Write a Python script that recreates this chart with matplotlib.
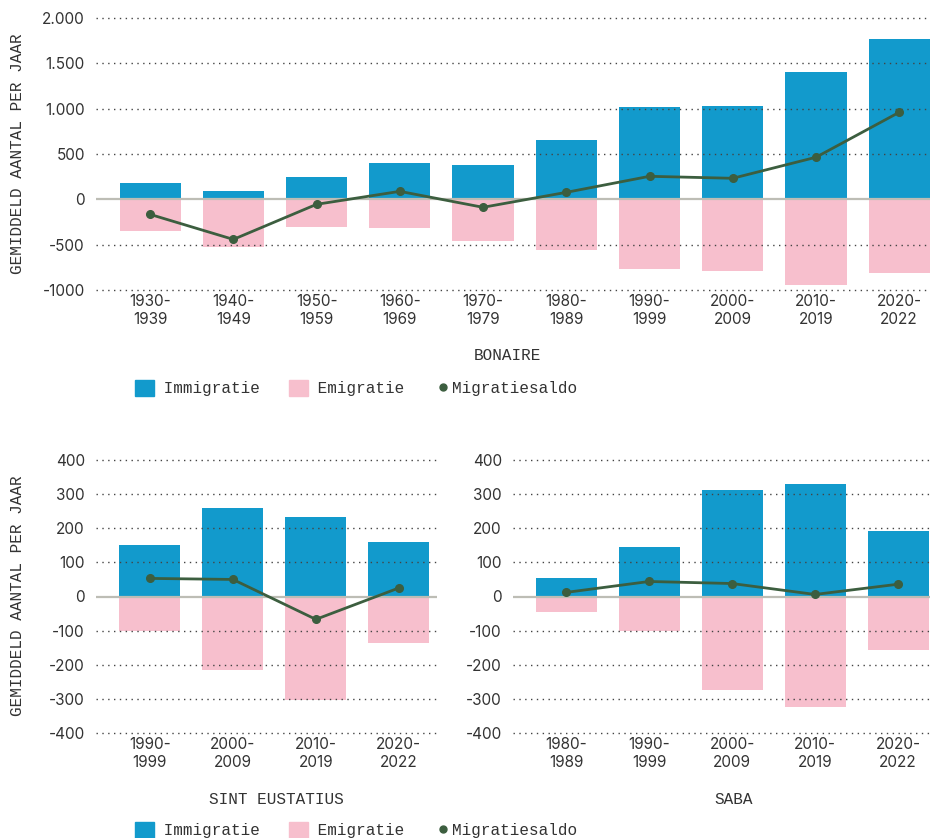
import matplotlib.pyplot as plt
from matplotlib.patches import Patch
from matplotlib.lines import Line2D

# Bonaire
bon_periodes = ["1930-\n1939", "1940-\n1949", "1950-\n1959", "1960-\n1969", "1970-\n1979",
                "1980-\n1989", "1990-\n1999", "2000-\n2009", "2010-\n2019", "2020-\n2022"]
bon_immigratie = [177, 88, 243, 397, 375, 651, 1015, 1026, 1402, 1766]
bon_emigratie = [-353, -530, -309, -320, -464, -563, -773, -795, -949, -817]
bon_saldo = [-166, -442, -55, 88, -88, 77, 254, 232, 464, 960]
bon_yticks = [-1000, -500, 0, 500, 1000, 1500, 2000]
bon_ylabels = ["-1000", "-500", "0", "500", "1.000", "1.500", "2.000"]

# Sint Eustatius
se_periodes = ["1990-\n1999", "2000-\n2009", "2010-\n2019", "2020-\n2022"]
se_immigratie = [151, 259, 233, 160]
se_emigratie = [-100, -214, -303, -137]
se_saldo = [53, 50, -67, 25]

# Saba
saba_periodes = ["1980-\n1989", "1990-\n1999", "2000-\n2009", "2010-\n2019", "2020-\n2022"]
saba_immigratie = [55, 145, 312, 330, 192]
saba_emigratie = [-45, -102, -275, -325, -158]
saba_saldo = [12, 44, 38, 6, 36]

small_yticks = [-400, -300, -200, -100, 0, 100, 200, 300, 400]
small_ylabels = [str(v) for v in small_yticks]

BLAUW = "#129acc"
ROZE = "#f7bfcd"
GROEN = "#3c5e3f"
TEKST = "#333333"
MONO = "Liberation Mono"
SANS = "Inter"

W, H = 930, 838
fig = plt.figure(figsize=(W / 100, H / 100), dpi=100)


def px_axes(left, top, right, bottom):
    return fig.add_axes([left / W, 1 - bottom / H, (right - left) / W, (bottom - top) / H])


def teken(ax, periodes, imm, emi, saldo, yticks, ylabels, xlim, naam, labelx):
    x = list(range(len(periodes)))
    ax.bar(x, imm, width=0.735, color=BLAUW, zorder=1)
    ax.bar(x, emi, width=0.735, color=ROZE, zorder=1)
    for t in yticks:
        if t == 0:
            ax.axhline(0, color="#bdbdb5", lw=1.6, zorder=3)
        else:
            ax.axhline(t, color="#444444", lw=1.0, ls=(0, (1, 3.2)), zorder=2, clip_on=False)
    ax.plot(x, saldo, color=GROEN, lw=2.0, marker="o", ms=5.5, zorder=4)
    ax.set_xlim(*xlim)
    ax.set_ylim(yticks[0], yticks[-1])
    ax.set_yticks(yticks)
    ax.set_yticklabels(ylabels, fontfamily=SANS, fontsize=11, color=TEKST)
    ax.set_xticks(x)
    ax.set_xticklabels(periodes, fontfamily=SANS, fontsize=11, color=TEKST, linespacing=1.25)
    ax.tick_params(length=0, axis="y", pad=8)
    ax.tick_params(length=0, axis="x", pad=3)
    for s in ax.spines.values():
        s.set_visible(False)
    ax.set_xlabel(naam, fontfamily=MONO, fontsize=11.5, color=TEKST)
    ax.xaxis.set_label_coords(labelx, -0.215)


ax1 = px_axes(96, 18, 930, 290)
teken(ax1, bon_periodes, bon_immigratie, bon_emigratie, bon_saldo,
      bon_yticks, bon_ylabels, (-0.65, 9.37), "BONAIRE", 0.493)

ax2 = px_axes(96, 460, 437, 733)
teken(ax2, se_periodes, se_immigratie, se_emigratie, se_saldo,
      small_yticks, small_ylabels, (-0.65, 3.46), "SINT EUSTATIUS", 0.528)

ax3 = px_axes(513, 460, 930, 733)
teken(ax3, saba_periodes, saba_immigratie, saba_emigratie, saba_saldo,
      small_yticks, small_ylabels, (-0.64, 4.385), "SABA", 0.528)

fig.text(18 / W, 1 - 154 / H, "GEMIDDELD AANTAL PER JAAR", rotation=90, ha="center", va="center",
         fontfamily=MONO, fontsize=11.5, color=TEKST)
fig.text(18 / W, 1 - 596 / H, "GEMIDDELD AANTAL PER JAAR", rotation=90, ha="center", va="center",
         fontfamily=MONO, fontsize=11.5, color=TEKST)

handles = [Patch(color=BLAUW), Patch(color=ROZE),
           Line2D([], [], color=GROEN, marker="o", ls="none", ms=5)]
# spatie voor de tekst bij de vlakjes, zodat de stip dichter bij zijn label staat
namen = [" Immigratie", " Emigratie", "Migratiesaldo"]
for ly in [388, 830]:
    fig.legend(handles, namen, loc="center left", bbox_to_anchor=(135 / W, 1 - ly / H),
               ncol=3, frameon=False, borderpad=0, borderaxespad=0,
               handlelength=1.2, handleheight=1.2, handletextpad=0.0, columnspacing=1.8,
               prop={"family": MONO, "size": 11.5}, labelcolor=TEKST)

fig.savefig("out.png", dpi=100)
